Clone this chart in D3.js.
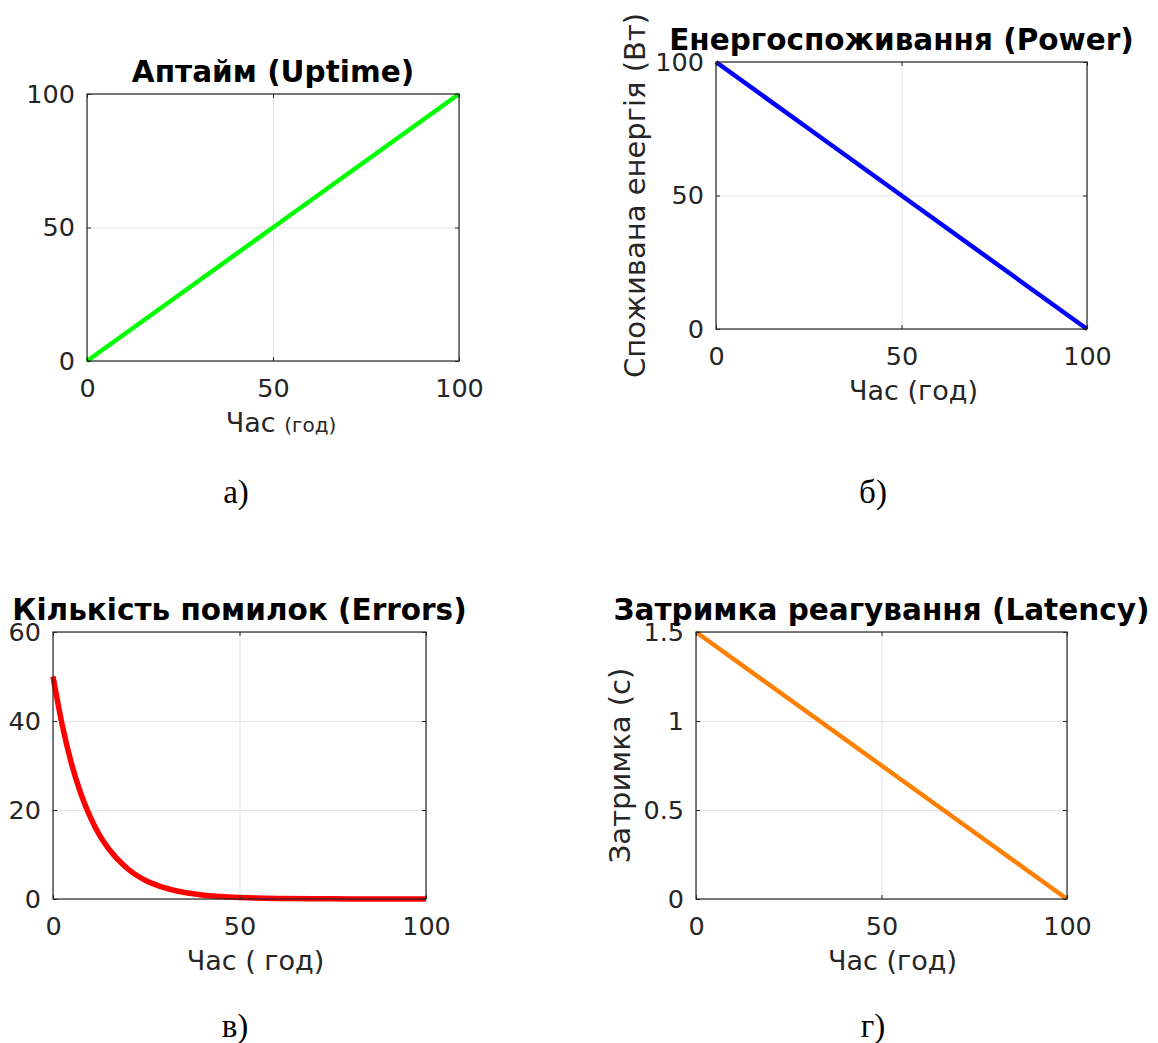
<!DOCTYPE html>
<html>
<head>
<meta charset="utf-8">
<script src="https://cdn.jsdelivr.net/npm/d3@7"></script>
<style>
  body { margin: 0; background: #fff; }
  #chart text { font-family: "DejaVu Sans", sans-serif; }
</style>
</head>
<body>
<div id="chart"></div>
<script>
// data
const hours = [0, 25, 50, 75, 100];
const uptimeValues = [0, 25, 50, 75, 100];
const powerValues = [100, 75, 50, 25, 0];
const latencyValues = [1.5, 1.125, 0.75, 0.375, 0];

const errorHours = [0, 2.5, 5, 7.5, 10, 12.5, 15, 20, 25, 30, 35, 40, 45, 50, 60, 70, 80, 90, 100];
const errorValues = [50, 39, 30.3, 23.6, 18.4, 14.3, 11.2, 6.8, 4.1, 2.5, 1.5, 0.9, 0.55, 0.34, 0.12, 0.05, 0.02, 0.006, 0.002];

const xTicks = [0, 50, 100];
const uptimeTicks = [0, 50, 100];
const powerTicks = [0, 50, 100];
const errorTicks = [0, 20, 40, 60];
const latencyTicks = [0, 0.5, 1, 1.5];

const titles = ["Аптайм (Uptime)", "Енергоспоживання (Power)", "Кількість помилок (Errors)", "Затримка реагування (Latency)"];
const captions = ["а)", "б)", "в)", "г)"];

const width = 1158;
const height = 1043;

const svg = d3.select("#chart")
    .append("svg")
    .attr("width", width)
    .attr("height", height);

svg.append("rect").attr("width", width).attr("height", height).attr("fill", "#fff");

const panels = [
    { left: 87, top: 94, w: 372, h: 267, xs: hours, ys: uptimeValues, yDomain: [0, 100], yTicks: uptimeTicks,
      color: "#00ff00", lw: 4.5, title: titles[0], caption: captions[0], capX: 236, capY: 503,
      xlabel: ["Час ", "(год)"], smallUnit: true, xlabelShift: 8, ylabel: null },
    { left: 716, top: 62, w: 371, h: 267, xs: hours, ys: powerValues, yDomain: [0, 100], yTicks: powerTicks,
      color: "#0000ff", lw: 4.5, title: titles[1], caption: captions[1], capX: 873, capY: 503,
      xlabel: ["Час ", "(год)"], smallUnit: false, xlabelShift: 12, ylabel: "Споживана енергія (Вт)", ylabelOff: 71 },
    { left: 53, top: 632, w: 373, h: 267, xs: errorHours, ys: errorValues, yDomain: [0, 60], yTicks: errorTicks,
      color: "#ff0000", lw: 5.5, title: titles[2], caption: captions[2], capX: 235, capY: 1037,
      xlabel: ["Час ", "( год)"], smallUnit: false, xlabelShift: 16, ylabel: null, curve: d3.curveMonotoneX },
    { left: 696, top: 632, w: 371, h: 267, xs: hours, ys: latencyValues, yDomain: [0, 1.5], yTicks: latencyTicks,
      color: "#ff8000", lw: 4.5, title: titles[3], caption: captions[3], capX: 873, capY: 1037,
      xlabel: ["Час ", "(год)"], smallUnit: false, xlabelShift: 11, ylabel: "Затримка (с)", ylabelOff: 66 }
];

panels.forEach(p => drawPanel(p));

function drawPanel(p) {
    const g = svg.append("g").attr("transform", `translate(${p.left},${p.top})`);

    const x = d3.scaleLinear().domain([0, 100]).range([0, p.w]);
    const y = d3.scaleLinear().domain(p.yDomain).range([p.h, 0]);

    // grid
    g.append("g")
        .attr("transform", `translate(0,${p.h})`)
        .call(d3.axisBottom(x).tickValues(xTicks).tickSize(-p.h).tickFormat(""))
        .call(s => s.select(".domain").remove())
        .selectAll("line").attr("stroke", "#e3e3e3").attr("stroke-width", 1);
    g.append("g")
        .call(d3.axisLeft(y).tickValues(p.yTicks).tickSize(-p.w).tickFormat(""))
        .call(s => s.select(".domain").remove())
        .selectAll("line").attr("stroke", "#e3e3e3").attr("stroke-width", 1);

    // the data line
    const line = d3.line()
        .x((d, i) => x(p.xs[i]))
        .y(d => y(d))
        .curve(p.curve || d3.curveLinear);
    g.append("path")
        .datum(p.ys)
        .attr("d", line)
        .attr("fill", "none")
        .attr("stroke", p.color)
        .attr("stroke-width", p.lw);

    // box
    g.append("rect")
        .attr("width", p.w).attr("height", p.h)
        .attr("fill", "none").attr("stroke", "#262626").attr("stroke-width", 1.2);

    // axes with inward ticks
    const tickColor = "#262626";
    const xAxis = g.append("g")
        .attr("transform", `translate(0,${p.h})`)
        .call(d3.axisBottom(x).tickValues(xTicks).tickSize(-4).tickPadding(18).tickFormat(d3.format("")));
    const yAxis = g.append("g")
        .call(d3.axisLeft(y).tickValues(p.yTicks).tickSize(-4).tickPadding(12).tickFormat(d3.format("")));
    g.append("g").call(d3.axisTop(x).tickValues(xTicks).tickSize(-4).tickFormat(""));
    g.append("g").attr("transform", `translate(${p.w},0)`)
        .call(d3.axisRight(y).tickValues(p.yTicks).tickSize(-4).tickFormat(""));

    g.selectAll(".domain").remove();
    g.selectAll(".tick line").filter(function () { return d3.select(this).attr("stroke") !== "#e3e3e3"; })
        .attr("stroke", tickColor);
    [xAxis, yAxis].forEach(a => a.selectAll("text")
        .attr("fill", tickColor)
        .style("font-size", "25.5px")
        .style("font-family", "DejaVu Sans, sans-serif"));

    // title
    g.append("text")
        .attr("x", p.w / 2)
        .attr("y", -12)
        .attr("text-anchor", "middle")
        .style("font-size", "29.5px")
        .style("font-weight", "bold")
        .attr("fill", "#000")
        .text(p.title);

    // x label
    const xl = g.append("text")
        .attr("x", p.w / 2 + p.xlabelShift)
        .attr("y", p.h + 71)
        .attr("text-anchor", "middle")
        .attr("fill", tickColor)
        .style("font-size", "27px");
    xl.append("tspan").text(p.xlabel[0]);
    xl.append("tspan").style("font-size", p.smallUnit ? "20px" : "27px").text(p.xlabel[1]);

    // y label
    if (p.ylabel) {
        g.append("text")
            .attr("transform", `translate(${-p.ylabelOff},${p.h / 2}) rotate(-90)`)
            .attr("text-anchor", "middle")
            .attr("fill", tickColor)
            .style("font-size", "29px")
            .text(p.ylabel);
    }

    // caption under the panel
    svg.append("text")
        .attr("x", p.capX)
        .attr("y", p.capY)
        .attr("text-anchor", "middle")
        .attr("fill", "#000")
        .style("font-family", "Liberation Serif, Times New Roman, serif")
        .style("font-size", "33px")
        .text(p.caption);
}
</script>
</body>
</html>
